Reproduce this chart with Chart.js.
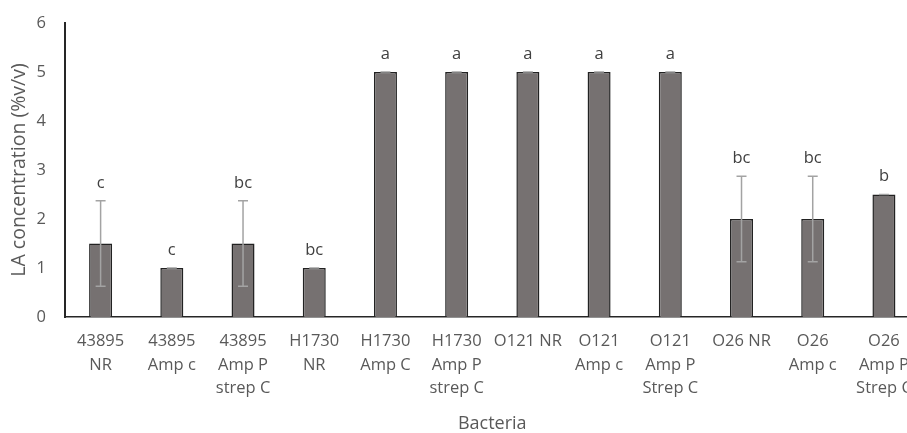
<!DOCTYPE html>
<html>
<head>
<meta charset="utf-8">
<script src="https://cdn.jsdelivr.net/npm/chart.js@4/dist/chart.umd.min.js"></script>
<style>
html,body{margin:0;padding:0;background:#fff;overflow:hidden;}
#wrap{width:925px;height:433px;}
</style>
</head>
<body>
<div id="wrap"><canvas id="c" width="925" height="433"></canvas></div>
<script>
const categories = [
  ['43895','NR'], ['43895','Amp c'], ['43895','Amp P','strep C'],
  ['H1730','NR'], ['H1730','Amp C'], ['H1730','Amp P','strep C'],
  ['O121 NR'], ['O121','Amp c'], ['O121','Amp P','Strep C'],
  ['O26 NR'], ['O26','Amp c'], ['O26','Amp P','Strep C']
];
const values = [1.5, 1, 1.5, 1, 5, 5, 5, 5, 5, 2, 2, 2.5];
const errors = [0.87, 0, 0.87, 0, 0, 0, 0, 0, 0, 0.87, 0.87, 0];
const letters = ['c','c','bc','bc','a','a','a','a','a','bc','bc','b'];
const yTicks = [0,1,2,3,4,5,6];

const FONT = "'Open Sans', 'Noto Sans', sans-serif";

const errPlugin = {
  id: 'errLetters',
  afterDatasetsDraw(chart) {
    const ctx = chart.ctx;
    const meta = chart.getDatasetMeta(0);
    const ys = chart.scales.y;
    ctx.save();
    meta.data.forEach((bar, i) => {
      const v = values[i], e = errors[i];
      const x = bar.x;
      const yt = ys.getPixelForValue(v + e);
      const yb = ys.getPixelForValue(v - e);
      ctx.strokeStyle = '#a3a3a3';
      ctx.lineWidth = 1.5;
      ctx.beginPath();
      if (e > 0) {
        ctx.moveTo(x, yt); ctx.lineTo(x, yb);
        ctx.moveTo(x - 5, yb); ctx.lineTo(x + 5, yb);
      }
      ctx.moveTo(x - 5, yt); ctx.lineTo(x + 5, yt);
      ctx.stroke();
      ctx.fillStyle = '#404040';
      ctx.font = '16.5px ' + FONT;
      ctx.textAlign = 'center';
      ctx.textBaseline = 'middle';
      ctx.fillText(letters[i], x, yt - 18);
    });
    ctx.restore();
  }
};

new Chart(document.getElementById('c'), {
  type: 'bar',
  data: {
    labels: categories,
    datasets: [{
      data: values,
      backgroundColor: '#767171',
      borderColor: '#222222',
      borderWidth: 1.5,
      barPercentage: 0.323,
      categoryPercentage: 1.0
    }]
  },
  options: {
    responsive: false,
    animation: false,
    devicePixelRatio: 1,
    layout: { padding: { top: 23, right: 5, bottom: 0, left: 0 } },
    plugins: { legend: { display: false }, tooltip: { enabled: false } },
    scales: {
      x: {
        grid: { display: false, drawTicks: false },
        border: { display: true, color: '#262626', width: 1.5 },
        ticks: {
          color: '#595959',
          font: { family: FONT, size: 16.5, lineHeight: 1.42 },
          padding: 13,
          maxRotation: 0,
          autoSkip: false
        },
        title: {
          display: true, text: 'Bacteria', color: '#595959',
          font: { family: FONT, size: 18 }, padding: { top: 0, bottom: -1.5 }
        },
        afterFit(s) { s.height = 116; }
      },
      y: {
        min: 0, max: 6,
        afterBuildTicks(s) { s.ticks = yTicks.map(v => ({ value: v })); },
        grid: { display: false, drawTicks: false },
        border: { display: true, color: '#262626', width: 2 },
        ticks: {
          color: '#595959',
          font: { family: FONT, size: 16.5 },
          padding: 19
        },
        title: {
          display: true, text: 'LA concentration (%v/v)', color: '#595959',
          font: { family: FONT, size: 19.5 }, padding: { top: 8, bottom: 0 }
        },
        afterFit(s) { s.width = 65; s.paddingTop = 0; s.paddingBottom = 0; }
      }
    }
  },
  plugins: [errPlugin]
});
</script>
</body>
</html>
